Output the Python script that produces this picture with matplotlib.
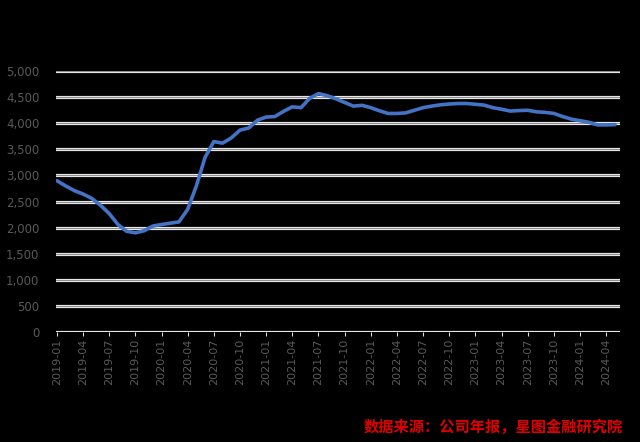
import numpy as np
import matplotlib.pyplot as plt

plt.rcParams['font.family'] = ['DejaVu Sans']

# monthly values, 2019-01 .. 2024-05
values = [2900, 2800, 2710, 2645, 2560, 2430, 2270, 2060, 1930, 1900,
          1940, 2030, 2060, 2085, 2110, 2350, 2800, 3350, 3650, 3620,
          3720, 3870, 3910, 4060, 4120, 4130, 4230, 4316, 4300, 4480,
          4570, 4530, 4470, 4400, 4330, 4345, 4300, 4240, 4189, 4189,
          4200, 4250, 4300, 4330, 4355, 4370, 4380, 4380, 4365, 4349,
          4300, 4270, 4235, 4245, 4250, 4221, 4210, 4190, 4130, 4080,
          4050, 4020, 3970, 3970, 3975]
tick_labels = ["2019-01", "2019-04", "2019-07", "2019-10",
               "2020-01", "2020-04", "2020-07", "2020-10",
               "2021-01", "2021-04", "2021-07", "2021-10",
               "2022-01", "2022-04", "2022-07", "2022-10",
               "2023-01", "2023-04", "2023-07", "2023-10",
               "2024-01", "2024-04"]
y_ticks = list(range(0, 5001, 500))
source = "数据来源：公司年报，星图金融研究院"

months = np.arange(len(values))

fig = plt.figure(figsize=(6.4, 4.42), dpi=100, facecolor="black")
ax = fig.add_axes([0.0875, 0.249, 0.8815, 0.590])
ax.set_facecolor("black")

# gridlines drawn as light double lines
for v in y_ticks:
    ax.axhline(v, color="#e6e6e6", lw=2.3, zorder=1)
    ax.axhline(v, color="#8c8c8c", lw=0.7, zorder=1.1)

ax.plot(months, values, color="#4472C4", lw=2.6, solid_joinstyle="round",
        solid_capstyle="round", zorder=3)

ax.set_xlim(-0.1, 64.6)
ax.set_ylim(0, 5000)
ax.set_yticks(y_ticks)
ax.set_yticklabels([f"{v:,}" for v in y_ticks], color="#595959", fontsize=8.5)
ax.set_xticks(np.arange(0, len(tick_labels) * 3, 3))
ax.set_xticklabels(tick_labels, rotation=90, color="#595959", fontsize=8)
ax.tick_params(axis="y", length=0, pad=12)
ax.tick_params(axis="x", length=3, color="#d9d9d9", pad=2)
for s in ax.spines.values():
    s.set_visible(False)

fig.text(0.973, 0.035, source, ha="right", va="center", color="#e00000",
         fontsize=11, fontweight="bold", family=["Noto Sans CJK SC", "DejaVu Sans"])

fig.savefig("out.png", dpi=100, facecolor="black")
